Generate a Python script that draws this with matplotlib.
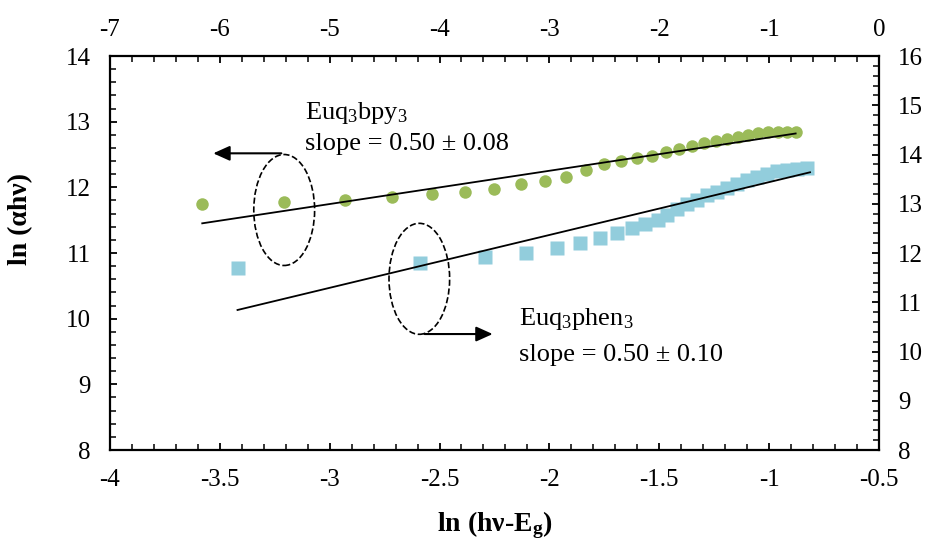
import matplotlib
matplotlib.use('Agg')
import matplotlib.pyplot as plt
from matplotlib.patches import Ellipse
from matplotlib.ticker import MultipleLocator

plt.rcParams['font.family'] = ['Liberation Serif', 'DejaVu Serif']
plt.rcParams['mathtext.fontset'] = 'custom'
plt.rcParams['mathtext.rm'] = 'Liberation Serif'
plt.rcParams['mathtext.it'] = 'Liberation Serif:italic'
plt.rcParams['mathtext.bf'] = 'Liberation Serif:bold'
plt.rcParams['axes.unicode_minus'] = False

# Euq3bpy3 -> bottom / left axes
bpy_x = [-3.580, -3.208, -2.932, -2.717, -2.536, -2.383, -2.250, -2.130, -2.021,
         -1.924, -1.835, -1.750, -1.674, -1.603, -1.533, -1.468, -1.408, -1.351,
         -1.295, -1.242, -1.191, -1.141, -1.094, -1.049, -1.003, -0.961, -0.920, -0.879]
bpy_y = [11.751, 11.772, 11.807, 11.848, 11.894, 11.933, 11.982, 12.046, 12.096,
         12.153, 12.259, 12.351, 12.405, 12.442, 12.477, 12.533, 12.584, 12.634,
         12.680, 12.710, 12.740, 12.766, 12.801, 12.827, 12.842, 12.842, 12.838, 12.838]
bpy_fit_x = [-3.58, -0.879]
bpy_fit_y = [11.452, 12.82]

# Euq3phen3 -> top / right axes
phen_x = [-5.839, -4.182, -3.582, -3.209, -2.927, -2.718, -2.536, -2.385, -2.248,
          -2.127, -2.015, -1.925, -1.834, -1.743, -1.652, -1.561, -1.470, -1.379,
          -1.288, -1.197, -1.106, -1.015, -0.925, -0.834, -0.743, -0.652]
phen_y = [11.702, 11.803, 11.909, 12.006, 12.108, 12.209, 12.311, 12.412, 12.502,
          12.589, 12.670, 12.772, 12.887, 12.995, 13.086, 13.168, 13.239, 13.320,
          13.401, 13.482, 13.553, 13.614, 13.665, 13.695, 13.706, 13.716]
phen_fit_x = [-5.839, -0.627]
phen_fit_y = [10.843, 13.639]

green = '#9BBB59'
blue = '#92CDDC'

fig = plt.figure(figsize=(9.36, 5.39), dpi=100)
pos = [0.1175, 0.1651, 0.8215, 0.731]
ax = fig.add_axes(pos)
ax2 = fig.add_axes(pos, frameon=False)

# blue data on the secondary axes
ax2.plot(phen_x, phen_y, ls='none', marker='s', ms=10, color=blue, mec='none')
ax2.plot(phen_fit_x, phen_fit_y, color='black', lw=1.3)
ax2.set_xlim(-7, 0)
ax2.set_ylim(8, 16)
ax2.xaxis.tick_top()
ax2.yaxis.tick_right()
ax2.xaxis.set_major_locator(MultipleLocator(1))
ax2.xaxis.set_minor_locator(MultipleLocator(0.2))
ax2.yaxis.set_major_locator(MultipleLocator(1))
ax2.yaxis.set_minor_locator(MultipleLocator(0.2))

ax.plot(bpy_x, bpy_y, ls='none', marker='o', ms=9, color=green, mec='none')
ax.plot(bpy_fit_x, bpy_fit_y, color='black', lw=1.3)
ax.set_xlim(-4, -0.5)
ax.set_ylim(8, 14)
ax.xaxis.set_major_locator(MultipleLocator(0.5))
ax.xaxis.set_minor_locator(MultipleLocator(0.1))
ax.yaxis.set_major_locator(MultipleLocator(1))
ax.yaxis.set_minor_locator(MultipleLocator(0.2))
ax.xaxis.set_major_formatter(lambda v, p: f'{v:g}')

for a in (ax, ax2):
    a.tick_params(which='major', direction='in', length=5, width=1.3, labelsize=18, pad=14)
    a.tick_params(which='minor', direction='in', length=4, width=1.1)
ax2.tick_params(axis='x', which='major', pad=11)
for s in ax.spines.values():
    s.set_linewidth(1.6)

ax.set_xlabel('ln (h\u03bd-E$_\\mathbf{g}$)', fontsize=20, fontweight='bold')
ax.xaxis.set_label_coords(0.5, -0.15)
ax.set_ylabel('ln (\u03b1h\u03bd)', fontsize=20, fontweight='bold')
ax.yaxis.set_label_coords(-0.1, 0.586)

# ellipses and arrows
ax.add_patch(Ellipse((-3.207, 11.655), 0.277, 1.69, fill=False, ls='--', lw=1.2, ec='black'))
ax.add_patch(Ellipse((-2.592, 10.607), 0.276, 1.69, fill=False, ls='--', lw=1.2, ec='black'))
arrow = dict(arrowstyle='-|>,head_length=1.0,head_width=0.45', color='black', lw=1.5,
             shrinkA=0, shrinkB=0)
ax.annotate('', xy=(-3.53, 12.518), xytext=(-3.22, 12.518), arrowprops=arrow)
ax.annotate('', xy=(-2.258, 9.766), xytext=(-2.568, 9.766), arrowprops=arrow)

ax.text(-3.114, 13.04, 'Euq$_3$bpy$_3$', fontsize=19, va='baseline')
ax.text(-3.114, 12.568, 'slope = 0.50 \u00b1 0.08', fontsize=19, va='baseline')
ax.text(-2.136, 9.911, 'Euq$_3$phen$_3$', fontsize=19, va='baseline')
ax.text(-2.136, 9.355, 'slope = 0.50 \u00b1 0.10', fontsize=19, va='baseline')

fig.savefig('out.png', dpi=100)
